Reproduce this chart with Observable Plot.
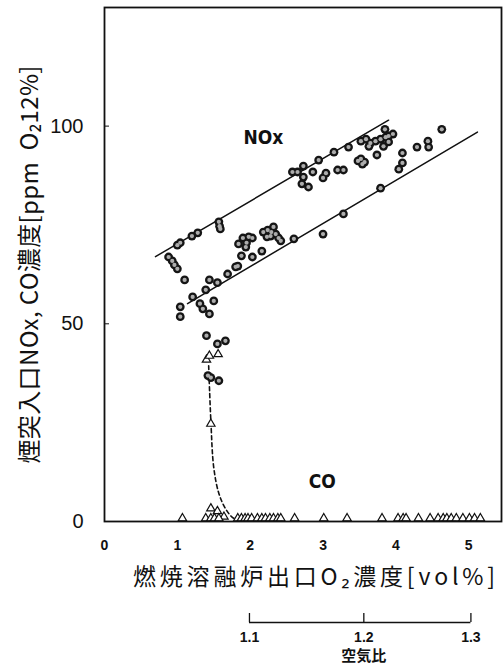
<!DOCTYPE html>
<html>
<head>
<meta charset="utf-8">
<script src="https://cdn.jsdelivr.net/npm/d3@7"></script>
<script src="https://cdn.jsdelivr.net/npm/@observablehq/plot@0.6"></script>
<style>
  html, body { margin: 0; padding: 0; background: #fff; }
  #chart svg { display: block; }
</style>
</head>
<body>
<div id="chart"></div>
<script>
// ---- data ----
const noxX = [0.88,0.93,0.96,1.00,1.00,1.04,1.20,1.28,1.57,1.58,1.59,
  1.10,1.04,1.04,1.21,1.31,1.35,1.44,1.39,1.50,1.44,1.55,1.69,1.80,1.83,1.88,2.03,2.16,
  1.84,1.90,1.98,2.03,1.95,1.94,2.18,2.24,2.29,2.35,2.39,2.28,2.23,2.42,2.32,2.60,3.00,
  1.40,1.55,1.66,1.42,1.46,1.57,
  2.58,2.65,2.73,2.73,2.86,2.71,2.80,2.94,3.00,3.04,3.20,3.28,3.15,3.35,
  3.48,3.54,3.52,3.57,3.52,3.59,3.65,3.72,3.79,3.86,3.90,3.63,3.83,3.96,3.85,3.90,3.74,
  3.79,3.28,4.09,4.29,4.44,4.45,4.63,4.09,4.04];
const noxY = [66.9,65.9,64.9,63.9,69.9,70.5,72.2,73.0,75.8,74.7,74.0,
  61.1,54.3,51.8,56.8,55.1,53.8,52.5,58.6,55.8,61.1,60.4,62.6,64.4,64.6,67.2,66.9,68.4,
  70.2,71.7,72.0,71.7,70.5,69.4,73.2,73.7,73.2,72.7,71.7,72.2,72.0,71.0,74.5,71.5,72.7,
  47.0,44.9,45.7,36.9,36.4,35.6,
  88.4,88.4,89.9,87.1,88.4,85.4,84.6,91.4,86.9,88.1,88.9,88.9,93.4,94.7,
  91.2,90.4,91.7,90.9,96.2,96.7,95.7,96.2,96.7,97.2,96.0,94.9,94.9,98.0,99.2,97.5,92.7,
  84.3,77.8,93.2,94.7,96.2,94.7,99.2,90.7,89.1];

const coX = [1.40,1.44,1.56,1.46,1.46,1.55,1.64,1.07,1.39,1.46,1.51,1.57,
  1.83,1.88,1.93,1.97,2.02,2.10,2.16,2.21,2.27,2.32,2.38,2.42,2.61,3.01,3.33,3.81,
  4.03,4.10,4.14,4.31,4.47,4.58,4.65,4.70,4.76,4.83,4.92,5.01,5.08,5.16];
const coY = [40.9,41.9,42.3,24.7,3.3,2.6,1.2,0.8,0.8,0.8,0.8,0.8,
  0.8,0.8,0.8,0.8,0.8,0.8,0.8,0.8,0.8,0.8,0.8,0.8,0.8,0.8,0.8,0.8,
  0.8,0.8,0.8,0.8,0.8,0.8,0.8,0.8,0.8,0.8,0.8,0.8,0.8,0.8];

const coCurveX = [1.43,1.46,1.50,1.57,1.66,1.76,1.87];
const coCurveY = [39.4,25.5,13.6,7.1,3.3,1.0,0.25];

const noxUpperLine = {x: [0.70, 3.90], y: [67.0, 101.5]};
const noxLowerLine = {x: [1.14, 5.12], y: [55.1, 98.5]};

const seriesNames = ["NOx", "CO"];
const seriesLabelX = [2.18, 2.99];
const seriesLabelY = [97.0, 10.1];

const xTicks = [0, 1, 2, 3, 4, 5];
const yTicks = [0, 50, 100];
const airRatio = [1.1, 1.2, 1.3];
const airRatioO2 = [1.99, 3.56, 5.03];

const xTitle = "燃焼溶融炉出口O₂濃度[vol%]";
const yTitle = "煙突入口NOx, CO濃度[ppm  O₂12%]";
const airTitle = "空気比";

// ---- tables ----
const nox = noxX.map((x, i) => ({x, y: noxY[i]}));
const co = coX.map((x, i) => ({x, y: coY[i]}));
const coCurve = coCurveX.map((x, i) => ({x, y: coCurveY[i]}));
const lines = [noxUpperLine, noxLowerLine].flatMap((l, k) =>
  l.x.map((x, i) => ({k, x, y: l.y[i]})));
const seriesLabels = seriesNames.map((name, i) => ({name, x: seriesLabelX[i], y: seriesLabelY[i]}));
const airTicks = airRatio.map((r, i) => ({r, o2: airRatioO2[i]}));

const CJK = "'Noto Sans CJK JP', 'Noto Sans', sans-serif";

const main = Plot.plot({
  width: 504, height: 596,
  marginLeft: 104, marginRight: 3, marginTop: 7, marginBottom: 75,
  style: {fontFamily: "'Liberation Sans', Arial, sans-serif", background: "#fff", color: "#111"},
  x: {domain: [0, 5.45]},
  y: {domain: [0, 130]},
  marks: [
    Plot.axisY(yTicks, {tickSize: -5, tickPadding: 26, fontSize: 20, label: null}),
    Plot.axisX(xTicks, {tickSize: 0, tickPadding: 19, fontSize: 14, fontWeight: "bold", label: null}),
    Plot.line(lines, {x: "x", y: "y", z: "k", stroke: "#111", strokeWidth: 1.5}),
    Plot.line(coCurve, {x: "x", y: "y", stroke: "#111", strokeWidth: 1.6, strokeDasharray: "4,3", curve: "catmull-rom"}),
    Plot.dot(co, {x: "x", y: "y", symbol: "triangle", r: 3.1, fill: "#fff", stroke: "#111", strokeWidth: 1.2}),
    Plot.dot(nox, {x: "x", y: "y", r: 4.4, fill: "#151515", stroke: "none"}),
    Plot.dot(nox, {x: "x", y: "y", r: 2.1, fill: "#adadad", stroke: "none"}),
    Plot.text(seriesLabels, {x: "x", y: "y", text: "name", fontSize: 19, fontWeight: "bold",
      fontFamily: "'Liberation Sans Narrow', 'DejaVu Sans Condensed', sans-serif", fill: "#111"}),
    Plot.text([xTitle], {frameAnchor: "bottom", lineAnchor: "middle", textAnchor: "middle", dy: 56, dx: 11,
      fontSize: 23, fontFamily: CJK, fill: "#111"}),
    Plot.text([yTitle], {frameAnchor: "left", lineAnchor: "middle", textAnchor: "middle", dx: -74, rotate: -90,
      fontSize: 24, fontFamily: CJK, fill: "#111"}),
    Plot.frame({stroke: "#111", strokeWidth: 1.8})
  ]
});

d3.select(main).selectAll("text").filter(function() { return this.textContent === xTitle; })
  .attr("textLength", 362).attr("lengthAdjust", "spacing");
d3.select(main).selectAll("text").filter(function() { return this.textContent === yTitle; })
  .attr("textLength", 398).attr("lengthAdjust", "spacing");

const secondary = Plot.plot({
  width: 504, height: 70,
  marginLeft: 104, marginRight: 3, marginTop: 17, marginBottom: 44,
  style: {fontFamily: "'Liberation Sans', Arial, sans-serif", background: "#fff", color: "#111"},
  x: {domain: [0, 5.45], axis: null},
  y: {domain: [0, 1], axis: null},
  marks: [
    Plot.ruleY([0], {x1: d3.min(airRatioO2), x2: d3.max(airRatioO2), stroke: "#111", strokeWidth: 1.3}),
    Plot.ruleX(airTicks, {x: "o2", y1: 0, y2: 1, stroke: "#111", strokeWidth: 1.3}),
    Plot.text(airTicks, {x: "o2", y: 0, text: d => d.r.toFixed(1), dy: 15, fontSize: 14, fontWeight: "bold", fill: "#111"}),
    Plot.text([airTitle], {x: airRatioO2[1], y: 0, dy: 34, fontSize: 15, fontWeight: "bold", fontFamily: CJK, fill: "#111"})
  ]
});

const chart = document.getElementById("chart");
chart.append(main, secondary);
</script>
</body>
</html>
